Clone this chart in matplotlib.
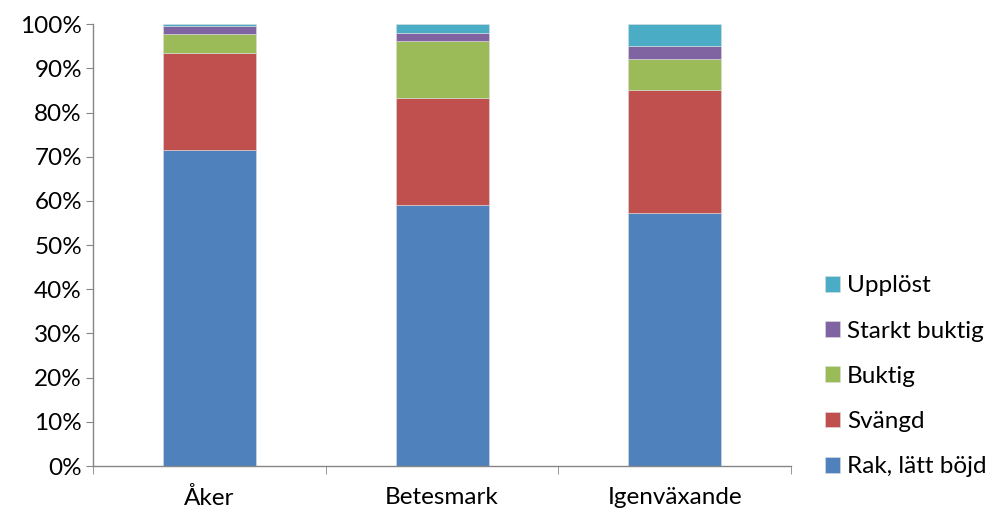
import matplotlib
matplotlib.use("Agg")
import matplotlib.pyplot as plt
import numpy as np
from matplotlib.ticker import FuncFormatter, FixedLocator

categories = ["Åker", "Betesmark", "Igenväxande"]
series_names = ["Rak, lätt böjd", "Svängd", "Buktig", "Starkt buktig", "Upplöst"]
rak = [71.6, 59.0, 57.2]
svangd = [21.8, 24.4, 27.8]
buktig = [4.4, 12.9, 7.2]
starkt = [1.8, 1.6, 2.8]
upplost = [0.4, 2.1, 5.0]
colors = ["#4F81BD", "#C0504D", "#9BBB59", "#8064A2", "#4BACC6"]

plt.rcParams['font.family'] = ['Lato', 'DejaVu Sans']
FS = 17.5
fig = plt.figure(figsize=(9.9, 5.12), dpi=100)
ax = fig.add_axes([0.094, 0.0898, 0.705, 0.863])

x = np.arange(len(categories))
bottom = np.zeros(len(categories))
handles = []
for name, vals, c in zip(series_names, [rak, svangd, buktig, starkt, upplost], colors):
    h = ax.bar(x, vals, 0.4, bottom=bottom, color=c, label=name,
               edgecolor="#dddddd", linewidth=0.4)
    handles.append(h)
    bottom += np.array(vals)

ax.set_xlim(-0.5, 2.5)
ax.set_ylim(0, 100)
ax.set_yticks(np.arange(0, 101, 10))
ax.yaxis.set_major_formatter(FuncFormatter(lambda v, p: f"{int(v)}%"))
ax.set_xticks(x)
ax.set_xticklabels(categories)
ax.xaxis.set_minor_locator(FixedLocator([-0.5, 0.5, 1.5, 2.5]))
ax.tick_params(axis='x', which='major', length=0, labelsize=FS, pad=15)
ax.tick_params(axis='x', which='minor', length=6, color='#868686')
ax.tick_params(axis='y', length=5, color='#868686', labelsize=FS, pad=3)

for s in ['top', 'right']:
    ax.spines[s].set_visible(False)
for s in ['left', 'bottom']:
    ax.spines[s].set_color('#868686')
    ax.spines[s].set_linewidth(1.0)

leg = fig.legend(handles[::-1], series_names[::-1], loc='center left',
                 bbox_to_anchor=(0.833, 0.265), frameon=False, fontsize=FS,
                 handlelength=0.62, handleheight=0.62, handletextpad=0.29,
                 labelspacing=1.0, borderpad=0, borderaxespad=0)

fig.savefig("out.png", dpi=100)
